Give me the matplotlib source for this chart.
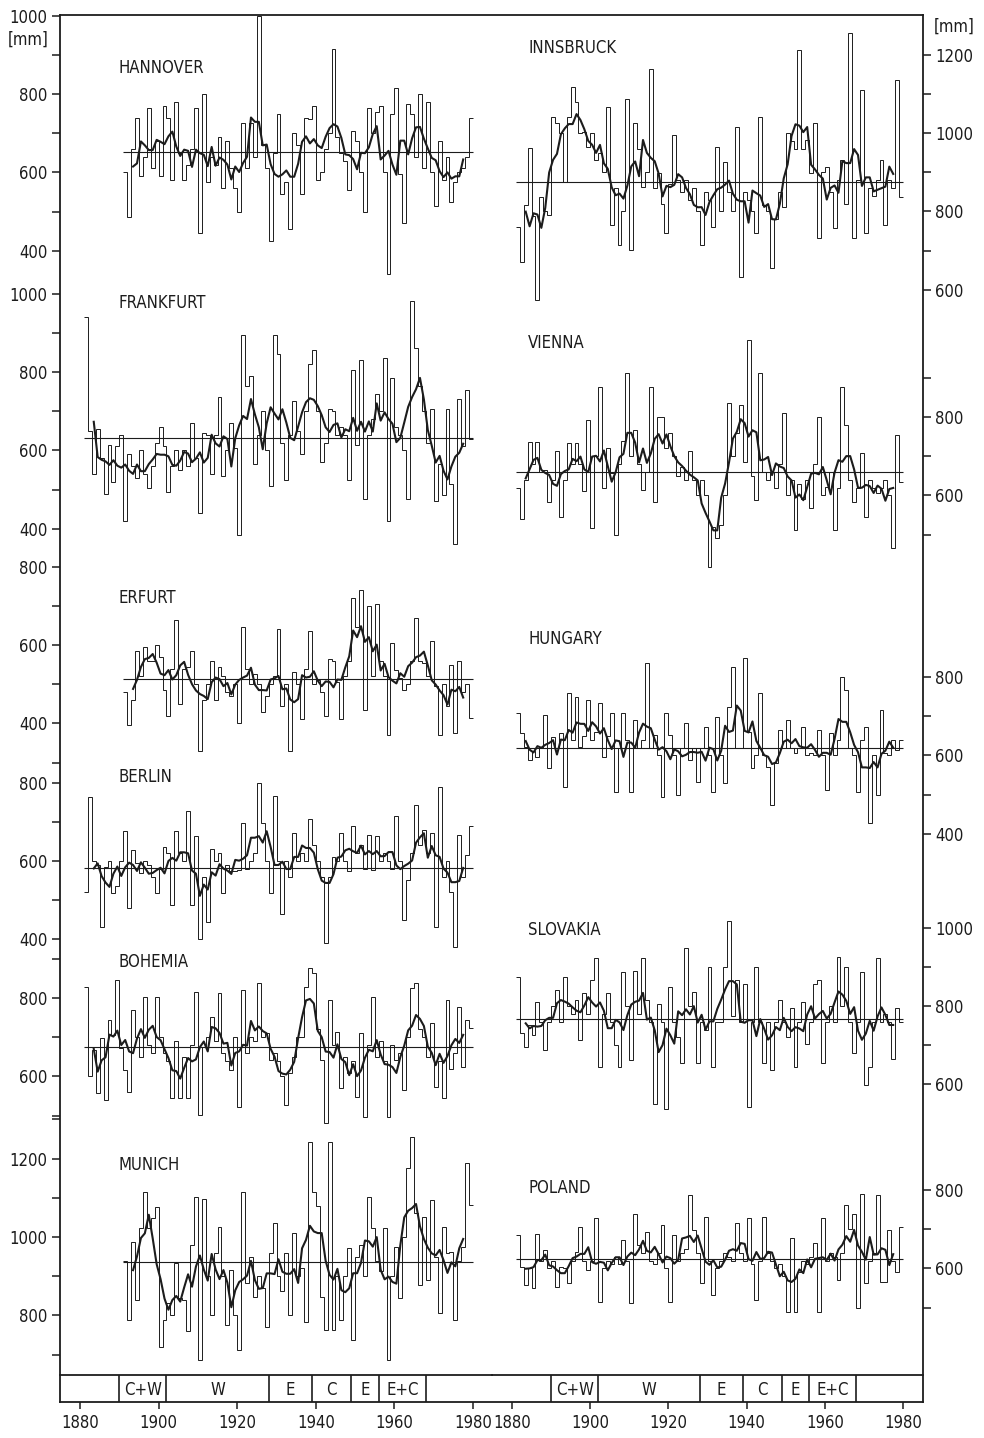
import numpy as np
import matplotlib
matplotlib.use("Agg")
import matplotlib.pyplot as plt

W, H = 984, 1438
K = 0.392          # pixels per mm on every panel scale
INK = "#1c1c1c"

# ---- yearly precipitation totals [mm] ----
hannover_start = 1891
hannover = [600, 485, 660, 740, 590, 640, 765, 610, 680,
            590, 770, 740, 580, 780, 650, 580, 620, 660, 765,
            445, 800, 575, 640, 620, 690, 560, 680, 610, 560,
            500, 725, 610, 725, 640, 1000, 670, 610, 425, 650,
            750, 545, 575, 455, 700, 670, 545, 740, 735, 770,
            580, 600, 660, 700, 915, 690, 650, 630, 555, 705,
            680, 600, 500, 765, 700, 755, 770, 600, 340, 750,
            815, 595, 470, 775, 750, 640, 800, 610, 780, 600,
            515, 680, 580, 640, 525, 575, 600, 610, 640, 740]

frankfurt_start = 1881
frankfurt = [940, 650, 540, 655, 580, 490, 615, 520, 610,
             640, 420, 590, 560, 530, 600, 540, 505, 560, 620,
             660, 610, 495, 560, 600, 550, 600, 560, 670, 580,
             440, 645, 640, 540, 640, 735, 535, 600, 670, 605,
             385, 895, 765, 790, 565, 640, 700, 600, 510, 895,
             845, 620, 525, 640, 725, 650, 590, 700, 820, 855,
             700, 570, 620, 705, 700, 640, 660, 640, 525, 805,
             615, 830, 475, 640, 680, 745, 700, 835, 420, 785,
             660, 640, 600, 475, 980, 860, 765, 700, 620, 705,
             470, 565, 485, 705, 515, 360, 730, 610, 755, 630]

erfurt_start = 1891
erfurt = [480, 395, 460, 585, 520, 595, 560, 560, 600,
          570, 485, 420, 540, 665, 450, 540, 545, 585, 500,
          330, 460, 500, 560, 460, 545, 520, 480, 470, 500,
          400, 645, 540, 500, 525, 500, 430, 470, 500, 520,
          640, 445, 500, 330, 530, 500, 410, 540, 635, 500,
          510, 480, 420, 565, 560, 505, 410, 520, 560, 720,
          645, 740, 435, 700, 520, 705, 560, 520, 370, 605,
          535, 515, 485, 500, 560, 670, 560, 555, 520, 610,
          495, 370, 500, 445, 550, 375, 560, 480, 500, 415]

berlin_start = 1881
berlin = [520, 763, 600, 590, 432, 585, 600, 518, 535,
          600, 676, 480, 629, 594, 570, 600, 590, 560, 518,
          580, 636, 620, 488, 676, 620, 600, 727, 488, 663,
          400, 560, 445, 631, 600, 620, 518, 590, 575, 575,
          577, 697, 580, 600, 620, 800, 697, 600, 518, 765,
          600, 466, 600, 560, 672, 600, 620, 600, 706, 640,
          600, 560, 390, 560, 610, 600, 672, 600, 575, 689,
          620, 640, 580, 667, 577, 663, 600, 620, 600, 580,
          714, 600, 450, 552, 620, 744, 640, 678, 620, 672,
          432, 789, 560, 600, 522, 381, 667, 560, 615, 689]

bohemia_start = 1881
bohemia = [829, 600, 667, 557, 697, 540, 744, 706, 846,
           672, 616, 560, 770, 700, 650, 803, 680, 659, 803,
           700, 660, 640, 544, 690, 544, 650, 544, 680, 816,
           501, 676, 700, 752, 690, 812, 660, 640, 616, 700,
           523, 820, 660, 700, 690, 837, 700, 710, 642, 660,
           640, 600, 527, 608, 650, 701, 700, 829, 876, 863,
           720, 642, 480, 795, 680, 714, 570, 650, 608, 640,
           548, 710, 497, 680, 803, 650, 690, 640, 497, 680,
           642, 660, 565, 700, 825, 837, 720, 701, 650, 735,
           574, 640, 544, 795, 620, 660, 778, 625, 744, 723]

munich_start = 1891
munich = [940, 788, 988, 839, 1022, 1116, 1022, 1048, 1076,
          720, 788, 831, 800, 933, 844, 840, 759, 980, 1101,
          686, 1097, 900, 801, 960, 1026, 900, 776, 916, 800,
          712, 1116, 882, 950, 848, 900, 870, 771, 960, 1035,
          900, 861, 960, 801, 1009, 900, 920, 784, 1243, 1116,
          1080, 848, 763, 1243, 763, 900, 788, 900, 971, 737,
          950, 980, 900, 1103, 1022, 940, 912, 1022, 686, 900,
          975, 844, 1000, 1175, 1256, 1060, 878, 1052, 890, 1094,
          950, 805, 1026, 960, 963, 788, 940, 975, 1190, 1082]

innsbruck_start = 1881
innsbruck = [761, 672, 816, 961, 787, 574, 838, 800, 791,
             1042, 1025, 1000, 876, 1040, 1118, 1080, 1000, 1003, 965,
             1000, 931, 950, 900, 1067, 765, 860, 714, 800, 1088,
             701, 1025, 960, 863, 900, 1163, 860, 897, 820, 744,
             870, 995, 880, 850, 880, 829, 860, 800, 714, 850,
             830, 761, 965, 800, 927, 850, 800, 1016, 633, 850,
             830, 800, 744, 1042, 816, 800, 655, 780, 850, 812,
             999, 980, 960, 1212, 960, 982, 897, 1025, 731, 900,
             913, 850, 757, 880, 931, 820, 1254, 731, 880, 1110,
             744, 860, 840, 880, 931, 765, 880, 860, 1135, 838]

vienna_start = 1881
vienna = [620, 541, 639, 737, 680, 737, 660, 665, 584,
          640, 712, 546, 640, 733, 680, 733, 680, 610, 792,
          516, 700, 877, 620, 720, 656, 499, 680, 740, 911,
          700, 767, 680, 614, 660, 877, 584, 800, 800, 720,
          758, 700, 650, 673, 640, 712, 640, 600, 639, 600,
          418, 520, 491, 525, 600, 835, 700, 760, 830, 686,
          996, 650, 588, 911, 660, 639, 660, 620, 680, 809,
          600, 640, 512, 630, 590, 640, 567, 680, 800, 600,
          622, 660, 512, 620, 877, 780, 640, 584, 620, 708,
          546, 640, 620, 605, 620, 640, 600, 467, 754, 634]

hungary_start = 1881
hungary = [707, 656, 622, 588, 610, 597, 620, 703, 567,
           648, 620, 656, 520, 758, 640, 750, 622, 650, 741,
           639, 660, 733, 597, 650, 707, 507, 620, 707, 640,
           507, 690, 620, 640, 835, 620, 652, 600, 494, 707,
           652, 600, 498, 620, 682, 588, 620, 533, 620, 673,
           600, 507, 699, 600, 529, 724, 826, 620, 618, 848,
           660, 567, 600, 758, 600, 571, 474, 580, 665, 620,
           690, 620, 605, 620, 673, 600, 605, 600, 665, 600,
           512, 656, 600, 640, 801, 767, 620, 600, 507, 640,
           673, 427, 600, 499, 716, 605, 600, 640, 614, 640]

slovakia_start = 1881
slovakia = [875, 730, 696, 752, 726, 811, 760, 688, 760,
            800, 841, 760, 875, 800, 780, 815, 713, 832, 780,
            866, 922, 645, 780, 832, 760, 700, 645, 886, 800,
            662, 890, 780, 922, 815, 760, 550, 805, 760, 537,
            849, 760, 720, 654, 949, 800, 835, 654, 760, 740,
            899, 645, 760, 760, 899, 1017, 775, 866, 760, 857,
            543, 760, 899, 760, 654, 760, 637, 760, 815, 760,
            720, 794, 645, 760, 811, 703, 760, 857, 866, 654,
            760, 800, 760, 926, 800, 899, 760, 680, 760, 886,
            598, 645, 760, 922, 760, 780, 760, 664, 794, 760]

poland_start = 1881
poland = [685, 604, 558, 600, 549, 689, 620, 647, 600,
          620, 553, 604, 600, 562, 620, 643, 706, 620, 596,
          620, 728, 515, 600, 620, 610, 630, 610, 672, 620,
          511, 738, 660, 640, 694, 620, 610, 640, 711, 600,
          515, 685, 620, 640, 650, 787, 698, 640, 562, 732,
          620, 532, 600, 620, 640, 630, 620, 715, 640, 620,
          728, 610, 519, 620, 732, 640, 620, 600, 610, 580,
          490, 677, 490, 590, 620, 610, 630, 664, 490, 728,
          620, 640, 630, 570, 640, 762, 700, 740, 498, 791,
          562, 620, 640, 787, 566, 566, 698, 620, 592, 706]

# long-term means (horizontal lines) [mm]
means = {"HANNOVER": 651, "FRANKFURT": 631, "ERFURT": 513, "BERLIN": 582,
         "BOHEMIA": 675, "MUNICH": 937, "INNSBRUCK": 875, "VIENNA": 659,
         "HUNGARY": 618, "SLOVAKIA": 767, "POLAND": 623}

# circulation epochs
epoch_edges = [1890, 1902, 1928, 1939, 1949, 1956, 1968]
epoch_labels = ["C+W", "W", "E", "C", "E", "E+C"]
year_ticks = [1880, 1900, 1920, 1940, 1960, 1980]

# panel layout: name, start, values, side, ref value, ref pixel row,
# ylim, labelled ticks, unlabelled ticks, name row
panels = [
    ("HANNOVER", hannover_start, hannover, "L", 800, 94, (330, 1010),
     [400, 600, 800, 1000], [500, 700, 900], 68),
    ("FRANKFURT", frankfurt_start, frankfurt, "L", 800, 372, (340, 1010),
     [400, 600, 800, 1000], [500, 700, 900], 303),
    ("ERFURT", erfurt_start, erfurt, "L", 600, 645, (290, 810),
     [400, 600, 800], [300, 500, 700], 598),
    ("BERLIN", berlin_start, berlin, "L", 600, 861, (370, 810),
     [400, 600, 800], [500, 700], 777),
    ("BOHEMIA", bohemia_start, bohemia, "L", 800, 998, (470, 910),
     [600, 800], [500, 700, 900], 962),
    ("MUNICH", munich_start, munich, "L", 1000, 1237, (660, 1310),
     [800, 1000, 1200], [700, 900, 1100, 1300], 1165),
    ("INNSBRUCK", innsbruck_start, innsbruck, "R", 1000, 133, (560, 1270),
     [600, 800, 1000, 1200], [700, 900, 1100], 48),
    ("VIENNA", vienna_start, vienna, "R", 800, 417, (430, 1000),
     [600, 800], [500, 700, 900], 343),
    ("HUNGARY", hungary_start, hungary, "R", 800, 677, (380, 880),
     [400, 600, 800], [500, 700], 639),
    ("SLOVAKIA", slovakia_start, slovakia, "R", 800, 1006, (520, 1050),
     [600, 800, 1000], [700, 900], 930),
    ("POLAND", poland_start, poland, "R", 800, 1190, (470, 820),
     [600, 800], [500, 700], 1188),
]

X0, XM, X1 = 60, 492, 923       # frame left, column split, frame right
Y0, YB, Y1 = 15, 1375, 1402     # frame top, epoch band top, frame bottom
XLIM = {"L": (1874.91, 1984.83), "R": (1874.88, 1985.12)}
COLX = {"L": (X0, XM), "R": (XM, X1)}
NAMEX = {"L": 118, "R": 528}

plt.rcParams["font.family"] = ["DejaVu Sans"]
plt.rcParams["font.stretch"] = "condensed"
fig = plt.figure(figsize=(W / 100, H / 100), dpi=100, facecolor="white")


def rect(x0, y0, x1, y1):
    return [x0 / W, 1 - y1 / H, (x1 - x0) / W, (y1 - y0) / H]


# outer frame
frame = fig.add_axes(rect(X0, Y0, X1, Y1))
frame.set_facecolor("none")
frame.set_xticks([])
frame.set_yticks([])
for s in frame.spines.values():
    s.set_linewidth(1.3)
    s.set_color(INK)

for name, start, vals, side, rv, rp, (ylo, yhi), major, minor, ny in panels:
    vals = np.asarray(vals, dtype=float)
    years = np.arange(start, start + len(vals))
    top = rp - (yhi - rv) * K
    bot = rp + (rv - ylo) * K
    xa, xb = COLX[side]
    ax = fig.add_axes(rect(xa, top, xb, bot))
    ax.set_facecolor("none")
    ax.set_xlim(*XLIM[side])
    ax.set_ylim(ylo, yhi)
    for s in ax.spines.values():
        s.set_visible(False)
    ax.set_xticks([])

    edges = np.append(years, years[-1] + 1)
    ax.stairs(vals, edges, baseline=None, color=INK, lw=0.7, clip_on=False)
    # five-year running mean, drawn at the middle of each window
    ma5 = np.convolve(vals, np.ones(5) / 5, mode="valid")
    ax.plot(years[2:-2] + 0.5, ma5, color=INK, lw=1.5, clip_on=False)
    ax.hlines(means[name], edges[0], edges[-1], color=INK, lw=0.8)

    if side == "L":
        ax.yaxis.tick_left()
    else:
        ax.yaxis.tick_right()
    ax.set_yticks(major)
    ax.set_yticks(minor, minor=True)
    ax.set_yticklabels([str(v) for v in major])
    ax.tick_params(axis="y", which="both", direction="out", length=6,
                   width=1.1, color=INK, labelcolor=INK, labelsize=12, pad=3)

    fig.text(NAMEX[side] / W, 1 - ny / H, name, ha="left", va="center",
             fontsize=12, color=INK)

fig.text(28 / W, 1 - 40 / H, "[mm]", ha="center", va="center",
         fontsize=12, color=INK)
fig.text(954 / W, 1 - 27 / H, "[mm]", ha="center", va="center",
         fontsize=12, color=INK)

# epoch band with the year axis
for side in ("L", "R"):
    xa, xb = COLX[side]
    band = fig.add_axes(rect(xa, YB, xb, Y1))
    band.set_facecolor("none")
    band.set_xlim(*XLIM[side])
    band.set_ylim(0, 1)
    for k, s in band.spines.items():
        s.set_visible(k == "top")
    band.spines["top"].set_linewidth(1.3)
    band.spines["top"].set_color(INK)
    for e in epoch_edges:
        band.axvline(e, color=INK, lw=1.2)
    for a, b, lab in zip(epoch_edges[:-1], epoch_edges[1:], epoch_labels):
        band.text((a + b) / 2, 0.45, lab, ha="center", va="center",
                  fontsize=12, color=INK)
    band.set_yticks([])
    band.set_xticks(year_ticks)
    band.set_xticklabels([str(y) for y in year_ticks])
    band.tick_params(axis="x", direction="out", length=5, width=1.1,
                     color=INK, labelcolor=INK, labelsize=12, pad=4)

fig.savefig("out.png", dpi=100, facecolor="white")
plt.close(fig)
